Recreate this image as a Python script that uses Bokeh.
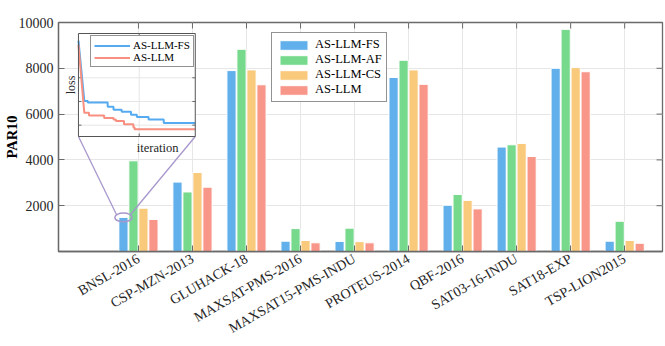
import math
from bokeh.plotting import figure
from bokeh.models import Range1d, FixedTicker, Legend, LegendItem, Label
from bokeh.core.properties import value
from bokeh.embed import file_html
from bokeh.resources import INLINE

# ---------------- data ----------------
categories = ["BNSL-2016", "CSP-MZN-2013", "GLUHACK-18", "MAXSAT-PMS-2016",
              "MAXSAT15-PMS-INDU", "PROTEUS-2014", "QBF-2016", "SAT03-16-INDU",
              "SAT18-EXP", "TSP-LION2015"]
series_names = ["AS-LLM-FS", "AS-LLM-AF", "AS-LLM-CS", "AS-LLM"]
par10_fs = [1490, 3030, 7900, 450, 440, 7600, 2020, 4560, 8000, 450]
par10_af = [3960, 2600, 8830, 1000, 1020, 8350, 2490, 4660, 9700, 1320]
par10_cs = [1890, 3450, 7930, 480, 430, 7930, 2230, 4720, 8030, 480]
par10_llm = [1400, 2810, 7280, 380, 380, 7300, 1860, 4150, 7850, 360]
y_ticks = [2000, 4000, 6000, 8000, 10000]

# inset: best-so-far loss vs iteration (arbitrary units)
inset_fs_iter = [0, 5, 8, 25, 30, 37, 45, 50, 60, 73, 100]
inset_fs_loss = [0.93, 0.345, 0.33, 0.29, 0.26, 0.24, 0.21, 0.19, 0.165, 0.13, 0.13]
inset_llm_iter = [0, 5, 9, 22, 30, 32, 39, 47, 48, 100]
inset_llm_loss = [0.89, 0.23, 0.205, 0.18, 0.165, 0.15, 0.12, 0.09, 0.07, 0.07]
inset_x_ticks = [52]
inset_y_ticks = [0.11, 0.34, 0.57]

# ---------------- style ----------------
colors = ["#62b0eb", "#77d98c", "#f9c97c", "#f8968a"]
FONT = "Liberation Serif"
AX = "#6a6a6a"
TXT = "#262626"
GRID = "#e6e6e6"
PURPLE = "#a797cc"

X0, X1 = -0.48, 10.70
Y0, Y1 = 0, 10000
W, H = 665, 346
BL, BR, BT, BB = 57, 3, 22, 95
FW, FH = W - BL - BR, H - BT - BB
TICK = 6  # px

p = figure(width=W, height=H, x_range=Range1d(X0, X1), y_range=Range1d(Y0, Y1),
           output_backend="svg", toolbar_location=None,
           min_border_left=BL, min_border_right=BR, min_border_top=BT, min_border_bottom=BB,
           background_fill_color="white", border_fill_color="white",
           outline_line_color=AX, outline_line_width=1.3)

cat_pos = list(range(1, len(categories) + 1))

# axes
p.xaxis.ticker = FixedTicker(ticks=cat_pos)
p.xaxis.major_label_overrides = {i: c for i, c in zip(cat_pos, categories)}
p.xaxis.major_label_orientation = math.pi / 6
p.yaxis.ticker = FixedTicker(ticks=y_ticks)
for ax in (p.xaxis[0], p.yaxis[0]):
    ax.major_label_text_font = FONT
    ax.major_label_text_font_size = "14px"
    ax.major_label_text_color = TXT
    ax.axis_line_color = AX
    ax.axis_line_width = 1.3
    ax.major_tick_line_color = AX
    ax.major_tick_in = TICK
    ax.major_tick_out = 0
    ax.minor_tick_line_color = None
p.xaxis.major_label_standoff = 6
p.yaxis.major_label_standoff = 5
p.yaxis.axis_label = "PAR10"
p.yaxis.axis_label_text_font = FONT
p.yaxis.axis_label_text_font_style = "bold"
p.yaxis.axis_label_text_font_size = "14.5px"
p.yaxis.axis_label_text_color = "black"
p.yaxis.axis_label_standoff = -4

p.xgrid.ticker = FixedTicker(ticks=cat_pos)
p.ygrid.ticker = FixedTicker(ticks=y_ticks)
p.xgrid.grid_line_color = GRID
p.ygrid.grid_line_color = GRID

# bars
bar_w = 0.17
pitch = 0.185
all_series = [par10_fs, par10_af, par10_cs, par10_llm]
bar_renderers = []
for k, vals in enumerate(all_series):
    off = (k - 1.5) * pitch
    r = p.vbar(x=[c + off for c in cat_pos], top=vals, width=bar_w,
               fill_color=colors[k], line_color="white", line_width=1)
    bar_renderers.append(r)

# mirrored inward ticks on top and right edges (box style)
dy_t = TICK * (Y1 - Y0) / FH
dx_t = TICK * (X1 - X0) / FW
p.segment(x0=cat_pos, x1=cat_pos, y0=[Y1] * len(cat_pos), y1=[Y1 - dy_t] * len(cat_pos),
          line_color=AX, line_width=1)
p.segment(x0=[X1] * len(y_ticks), x1=[X1 - dx_t] * len(y_ticks), y0=y_ticks, y1=y_ticks,
          line_color=AX, line_width=1)

leg = Legend(items=[LegendItem(label=n, renderers=[r]) for n, r in zip(series_names, bar_renderers)],
             location=(213, 149), padding=4, spacing=0, margin=0,
             glyph_width=35, glyph_height=12, label_height=12, label_standoff=4,
             label_text_font=FONT, label_text_font_size="12.5px", label_text_color="black",
             border_line_color=TXT, border_line_width=1)
p.add_layout(leg)

# ---------------- inset (extra ranges) ----------------
inset_left, inset_right, inset_top, inset_bottom = 20, 137, 11, 114   # px within frame
fl, fr = inset_left / FW, inset_right / FW
fb, ft = (FH - inset_bottom) / FH, (FH - inset_top) / FH
IX0, IX1 = 0, 100
IY0, IY1 = 0, 1
sx = (IX1 - IX0) / (fr - fl)
sy = (IY1 - IY0) / (ft - fb)
p.extra_x_ranges = {"ix": Range1d(IX0 - fl * sx, IX0 - fl * sx + sx)}
p.extra_y_ranges = {"iy": Range1d(IY0 - fb * sy, IY0 - fb * sy + sy)}

# zoom ellipse + connectors (main coordinates)
ex = cat_pos[0] + (0 - 1.5) * pitch
ey = par10_fs[0]
ew, eh = 0.32, 380
p.ellipse(x=[ex], y=[ey], width=ew, height=eh, fill_color=None,
          line_color=PURPLE, line_width=1.5)
cx_left = X0 + fl * (X1 - X0)
cx_right = X0 + fr * (X1 - X0)
cy = Y0 + fb * (Y1 - Y0)
p.segment(x0=[cx_left, cx_right], y0=[cy, cy],
          x1=[ex - 0.8 * ew / 2, ex + 0.8 * ew / 2], y1=[ey + 0.6 * eh / 2, ey + 0.6 * eh / 2],
          line_color=PURPLE, line_width=1.3)

kw = dict(x_range_name="ix", y_range_name="iy")
p.quad(left=[IX0], right=[IX1], bottom=[IY0], top=[IY1], fill_color="white",
       line_color=None, **kw)
# inset grid
p.segment(x0=inset_x_ticks, x1=inset_x_ticks, y0=[IY0] * len(inset_x_ticks), y1=[IY1] * len(inset_x_ticks),
          line_color=GRID, line_width=1, **kw)
p.segment(x0=[IX0] * len(inset_y_ticks), x1=[IX1] * len(inset_y_ticks), y0=inset_y_ticks, y1=inset_y_ticks,
          line_color=GRID, line_width=1, **kw)
# inset ticks
tlx = 3 * (IX1 - IX0) / (inset_right - inset_left)
tly = 3 * (IY1 - IY0) / (inset_bottom - inset_top)
p.segment(x0=[IX0] * 3 + [IX1] * 3, x1=[IX0 + tlx] * 3 + [IX1 - tlx] * 3,
          y0=inset_y_ticks * 2, y1=inset_y_ticks * 2, line_color=AX, line_width=1, **kw)
p.segment(x0=inset_x_ticks * 2, x1=inset_x_ticks * 2, y0=[IY0, IY1], y1=[IY0 + tly, IY1 - tly],
          line_color=AX, line_width=1, **kw)


def step_pts(its, ls):
    xs = [its[0], its[1]]
    ys = [ls[0], ls[1]]
    for i in range(2, len(its)):
        xs += [its[i], its[i]]
        ys += [ls[i - 1], ls[i]]
    return xs, ys


fx, fy = step_pts(inset_fs_iter, inset_fs_loss)
lx, ly = step_pts(inset_llm_iter, inset_llm_loss)
r_fs = p.line(fx, fy, line_color="#55aaf0", line_width=2, **kw)
r_llm = p.line(lx, ly, line_color="#f88f80", line_width=2, **kw)
p.quad(left=[IX0], right=[IX1], bottom=[IY0], top=[IY1], fill_color=None,
       line_color="#555555", line_width=1, **kw)

p.text(x=[IX0], y=[(IY0 + IY1) / 2], text=["loss"], angle=math.pi / 2, x_offset=-7,
       text_align="center", text_baseline="middle", text_font=value(FONT),
       text_font_size="12px", text_color=TXT, **kw)
p.text(x=[50], y=[IY0], text=["iteration"], y_offset=4,
       text_align="left", text_baseline="top", text_font=value(FONT),
       text_font_size="12.5px", text_color=TXT, **kw)

leg2 = Legend(items=[LegendItem(label="AS-LLM-FS", renderers=[r_fs]),
                     LegendItem(label="AS-LLM", renderers=[r_llm])],
              location=(32, 184), padding=3, spacing=0, margin=0,
              glyph_width=36, glyph_height=11, label_height=11, label_standoff=3,
              label_text_font=FONT, label_text_font_size="11px", label_text_color="black",
              border_line_color=TXT, border_line_width=1)
p.add_layout(leg2)

# title
p.add_layout(Label(x=(X0 + X1) / 2, y=Y1, y_offset=4, text="Ablation Study on ASLib Benchmarks",
                   text_align="center", text_baseline="bottom", text_font=FONT,
                   text_font_style="bold", text_font_size="13px", text_color="black"))

open("out.html", "w").write(file_html(p, INLINE))
